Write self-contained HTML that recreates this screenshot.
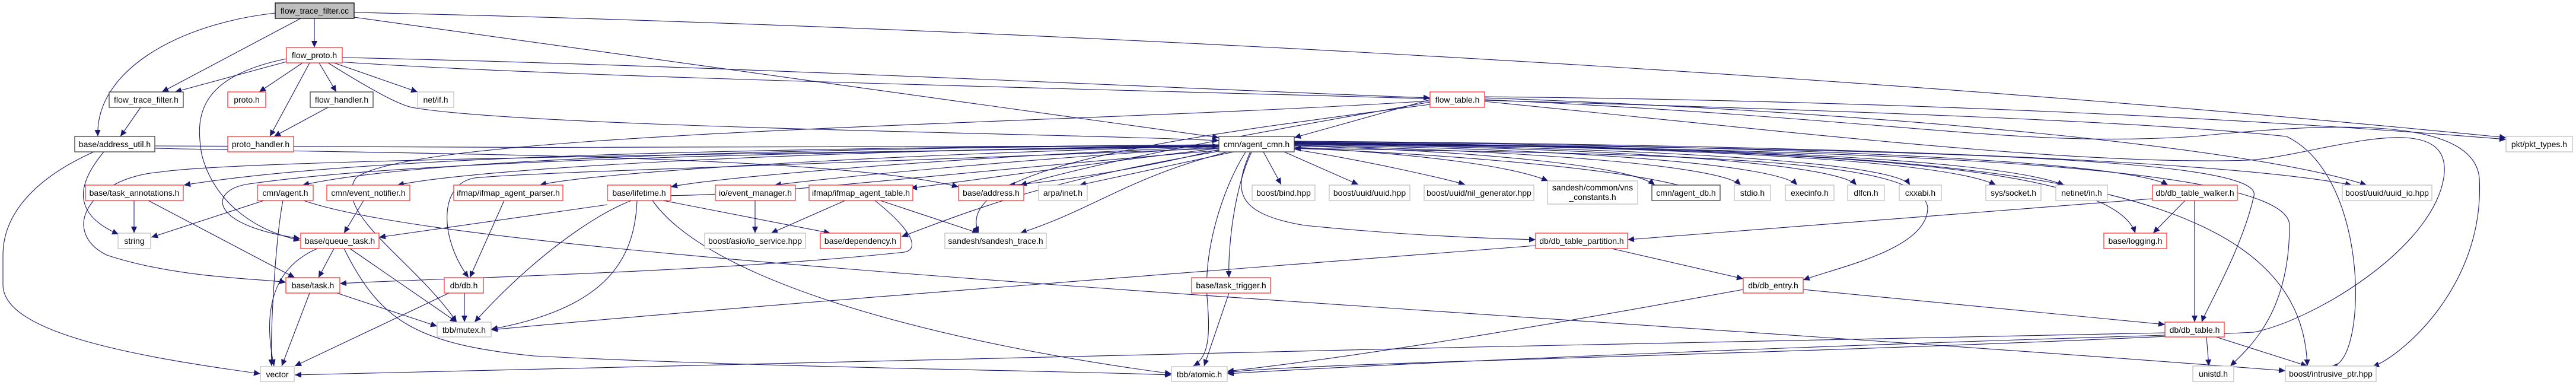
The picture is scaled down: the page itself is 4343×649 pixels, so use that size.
<!DOCTYPE html>
<html><head><meta charset="utf-8"><style>
html,body{margin:0;padding:0;background:#fff;}
svg{display:block;}
text{font-family:"Liberation Sans",sans-serif;font-size:14px;fill:#000;text-anchor:middle;}
.n{fill:#fff;stroke-width:1.3;}
.r{stroke:#ff3333;}
.g{stroke:#c0c0c0;}
.b{stroke:#404040;}
.e{fill:none;stroke:#191970;stroke-width:1.1;marker-end:url(#a);}
</style></head><body>
<svg width="4343" height="649" viewBox="0 0 4343 649" xmlns="http://www.w3.org/2000/svg">
<defs><marker id="a" markerUnits="userSpaceOnUse" markerWidth="12" markerHeight="10" refX="11" refY="5" orient="auto"><path d="M0,0 L11,5 L0,10 z" fill="#191970"/></marker></defs>

<!-- edges -->
<g>
<!-- flow_trace_filter.cc -->
<path class="e" d="M530,31 L530,80"/>
<path class="e" d="M507,31 L273,155"/>
<path class="e" d="M464,22 C300,40 160,120 165,230"/>
<path class="e" d="M597,29 L2055,232"/>
<path class="e" d="M597,21 C1500,40 3000,110 4225,232"/>
<!-- flow_proto.h -->
<path class="e" d="M483,104 L295,155"/>
<path class="e" d="M510,106 L437,155"/>
<path class="e" d="M522,106 L455,230"/>
<path class="e" d="M538,106 L567,155"/>
<path class="e" d="M563,106 L704,155"/>
<path class="e" d="M553,106 C640,160 680,180 700,182 C900,215 1800,225 2055,237"/>
<path class="e" d="M577,97 C1200,110 2000,150 2411,165"/>
<path class="e" d="M483,99 C330,130 330,200 340,260 C360,340 430,390 506,405"/>
<path class="e" d="M555,103 C1200,150 3300,170 3855,230 C4000,300 3990,620 3930,617"/>
<!-- flow_trace_filter.h / flow_handler.h -->
<path class="e" d="M237,181 L203,230"/>
<path class="e" d="M553,181 L462,230"/>
<!-- base/address_util.h -->
<path class="e" d="M158,256 C60,300 5,360 5,430 L5,480 C5,560 220,600 439,630"/>
<path class="e" d="M175,256 C130,310 120,360 200,395"/>
<path class="e" d="M261,250 C700,260 1400,260 1616,315"/>
<path class="e" d="M261,246 C900,250 1900,250 2055,246"/>
<!-- cmn/agent_cmn.h outgoing -->
<path class="e" d="M2055,244 C1200,250 600,265 310,312"/>
<path class="e" d="M2055,244 C1200,252 700,270 510,312"/>
<path class="e" d="M2055,245 C1300,255 800,285 670,312"/>
<path class="e" d="M2055,246 C1500,260 1000,290 910,312"/>
<path class="e" d="M2055,247 C1600,265 1200,300 1131,315"/>
<path class="e" d="M2055,248 C1700,270 1400,300 1306,312"/>
<path class="e" d="M2055,250 C1800,280 1600,310 1535,317"/>
<path class="e" d="M2055,252 C1900,290 1750,310 1700,312"/>
<path class="e" d="M2080,256 L1820,312"/>
<path class="e" d="M2130,256 L2160,311"/>
<path class="e" d="M2165,256 L2290,311"/>
<path class="e" d="M2182,252 C2300,270 2430,300 2470,311"/>
<path class="e" d="M2182,248 C2400,260 2550,280 2610,305"/>
<path class="e" d="M2182,246 C2500,255 2750,280 2790,312"/>
<path class="e" d="M2182,245 C2600,255 2900,280 2935,312"/>
<path class="e" d="M2182,244 C2700,252 3000,280 3030,312"/>
<path class="e" d="M2182,243 C2800,250 3100,280 3130,312"/>
<path class="e" d="M2182,242 C2900,250 3200,280 3220,312"/>
<path class="e" d="M2182,241 C3000,248 3300,280 3365,312"/>
<path class="e" d="M2182,240 C3100,248 3400,280 3480,312"/>
<path class="e" d="M2182,239 C3200,246 3600,280 3655,312"/>
<path class="e" d="M2182,238 C3300,246 3800,280 3965,312"/>
<path class="e" d="M2182,240 C3000,250 3560,270 3600,393"/>
<path class="e" d="M2182,241 C3100,250 3820,260 3800,330 C3780,420 3720,520 3712,543"/>
<path class="e" d="M2182,242 C3200,250 3860,280 3860,380 C3860,520 3800,580 3760,617"/>
<path class="e" d="M2182,243 C3300,250 3880,280 3890,617"/>
<path class="e" d="M2182,250 C2900,260 3240,270 3250,350 C3250,420 3100,450 3040,472"/>
<path class="e" d="M2100,256 C2060,320 2030,420 2035,500 C2040,560 2040,600 2012,617"/>
<path class="e" d="M2110,256 C2080,320 2070,420 2072,468"/>
<path class="e" d="M2108,256 C2080,320 2080,360 2200,380 C2400,400 2550,403 2589,404"/>
<path class="e" d="M2070,256 C1900,300 1850,350 1720,393"/>
<path class="e" d="M2060,254 C1800,300 1700,330 1520,399"/>
<path class="e" d="M2055,250 C1300,280 900,290 800,300 C740,310 740,400 790,468"/>
<path class="e" d="M2060,253 C1500,300 1300,330 1100,330 C1050,330 920,410 800,543"/>
<path class="e" d="M2055,247 C1200,260 400,270 270,290 C150,300 100,390 180,430 C300,470 450,470 482,476"/>
<path class="e" d="M2055,246 C1300,258 700,270 420,310 C350,320 350,380 506,402"/>
<!-- flow_table.h -->
<path class="e" d="M2411,168 L2182,232"/>
<path class="e" d="M2411,172 C2200,210 1900,260 1720,312"/>
<path class="e" d="M2411,176 C2000,230 1600,280 1650,393"/>
<path class="e" d="M2411,170 C1800,210 700,220 600,300 C560,360 700,440 770,543"/>
<path class="e" d="M2503,163 C3200,170 3800,200 4225,235"/>
<path class="e" d="M2503,165 C3200,190 3800,250 3990,312"/>
<path class="e" d="M2503,168 C3200,200 3400,250 3700,230 C3900,210 4170,190 4180,300 C4190,480 4050,600 4000,618"/>
<path class="e" d="M2503,171 C3000,220 3500,280 3790,270 C3900,265 4140,170 4120,300 C4100,420 3900,540 3800,560 C3000,600 2200,610 2069,628"/>
<!-- row4 outgoing -->
<path class="e" d="M226,338 L226,393"/>
<path class="e" d="M250,338 L497,468"/>
<path class="e" d="M445,338 L255,400"/>
<path class="e" d="M477,338 C465,400 455,560 458,617"/>
<path class="e" d="M512,338 C800,440 2500,520 3853,625"/>
<path class="e" d="M613,338 L580,393"/>
<path class="e" d="M850,338 L792,468"/>
<path class="e" d="M1024,345 L639,400"/>
<path class="e" d="M1118,338 L1400,393"/>
<path class="e" d="M1074,338 C1070,440 1020,520 828,555"/>
<path class="e" d="M1100,338 C1200,480 1600,580 1975,630"/>
<path class="e" d="M1273,338 L1273,393"/>
<path class="e" d="M1425,338 L1300,393"/>
<path class="e" d="M1484,338 L1650,393"/>
<path class="e" d="M1475,338 C1540,390 1550,420 1525,425 C1200,460 700,470 573,478"/>
<!-- row5 outgoing -->
<path class="e" d="M563,419 L537,468"/>
<path class="e" d="M590,419 L770,543"/>
<path class="e" d="M535,419 C440,460 450,560 462,617"/>
<path class="e" d="M580,419 C640,540 700,580 900,600 C1300,620 1800,625 1975,632"/>
<!-- row6 outgoing -->
<path class="e" d="M568,494 L737,550"/>
<path class="e" d="M522,494 L475,617"/>
<path class="e" d="M783,494 L783,543"/>
<path class="e" d="M757,494 L497,617"/>
<path class="e" d="M2072,494 L2030,617"/>
<path class="e" d="M2717,419 L2939,470"/>
<path class="e" d="M2589,414 C2000,460 1200,520 828,556"/>
<path class="e" d="M2939,488 C2600,550 2300,600 2069,626"/>
<path class="e" d="M3040,488 L3650,547"/>
<path class="e" d="M3684,338 L3630,393"/>
<path class="e" d="M3700,338 L3700,543"/>
<path class="e" d="M3629,335 L2744,404"/>
<path class="e" d="M3720,568 L3724,617"/>
<path class="e" d="M3736,568 L3890,617"/>
<path class="e" d="M3650,561 C2600,580 1000,620 497,632"/>
<path class="e" d="M3650,565 C3000,585 2400,610 2069,630"/>
<path class="e" d="M2830,312 C2700,280 2400,258 2182,250"/>
</g>

<!-- nodes -->
<g>
<rect x="464" y="5" width="133" height="26" fill="#bfbfbf" stroke="#000" stroke-width="1.3"/><text x="530.5" y="23">flow_trace_filter.cc</text>
<rect class="n r" x="483" y="80" width="94" height="26"/><text x="530" y="98">flow_proto.h</text>
<rect class="n b" x="184" y="155" width="125" height="26"/><text x="246.5" y="173">flow_trace_filter.h</text>
<rect class="n r" x="384" y="155" width="64" height="26"/><text x="416" y="173">proto.h</text>
<rect class="n b" x="523" y="155" width="106" height="26"/><text x="576" y="173">flow_handler.h</text>
<rect class="n g" x="704" y="155" width="61" height="26"/><text x="734.5" y="173">net/if.h</text>
<rect class="n r" x="2411" y="155" width="92" height="26"/><text x="2457" y="173">flow_table.h</text>
<rect class="n b" x="126" y="230" width="135" height="26"/><text x="193.5" y="248">base/address_util.h</text>
<rect class="n r" x="384" y="230" width="111" height="26"/><text x="439.5" y="248">proto_handler.h</text>
<rect class="n b" x="2055" y="230" width="127" height="26"/><text x="2118.5" y="248">cmn/agent_cmn.h</text>
<rect class="n g" x="4225" y="230" width="112" height="26"/><text x="4281" y="248">pkt/pkt_types.h</text>

<rect class="n r" x="144" y="312" width="165" height="26"/><text x="226.5" y="330">base/task_annotations.h</text>
<rect class="n r" x="434" y="312" width="94" height="26"/><text x="481" y="330">cmn/agent.h</text>
<rect class="n r" x="551" y="312" width="140" height="26"/><text x="621" y="330">cmn/event_notifier.h</text>
<rect class="n r" x="765" y="312" width="184" height="26"/><text x="857" y="330">ifmap/ifmap_agent_parser.h</text>
<rect class="n r" x="1024" y="312" width="107" height="26"/><text x="1077.5" y="330">base/lifetime.h</text>
<rect class="n r" x="1206" y="312" width="135" height="26"/><text x="1273.5" y="330">io/event_manager.h</text>
<rect class="n r" x="1364" y="312" width="175" height="26"/><text x="1451.5" y="330">ifmap/ifmap_agent_table.h</text>
<rect class="n r" x="1616" y="312" width="110" height="26"/><text x="1671" y="330">base/address.h</text>
<rect class="n g" x="1751" y="312" width="82" height="26"/><text x="1792" y="330">arpa/inet.h</text>
<rect class="n g" x="2111" y="312" width="106" height="26"/><text x="2164" y="330">boost/bind.hpp</text>
<rect class="n g" x="2241" y="312" width="136" height="26"/><text x="2309" y="330">boost/uuid/uuid.hpp</text>
<rect class="n g" x="2401" y="312" width="185" height="26"/><text x="2493.5" y="330">boost/uuid/nil_generator.hpp</text>
<rect class="n g" x="2609" y="305" width="152" height="39"/><text x="2685" y="321">sandesh/common/vns</text><text x="2685" y="337">_constants.h</text>
<rect class="n b" x="2785" y="312" width="115" height="26"/><text x="2842.5" y="330">cmn/agent_db.h</text>
<rect class="n g" x="2924" y="312" width="61" height="26"/><text x="2954.5" y="330">stdio.h</text>
<rect class="n g" x="3010" y="312" width="82" height="26"/><text x="3051" y="330">execinfo.h</text>
<rect class="n g" x="3115" y="312" width="62" height="26"/><text x="3146" y="330">dlfcn.h</text>
<rect class="n g" x="3202" y="312" width="71" height="26"/><text x="3237.5" y="330">cxxabi.h</text>
<rect class="n g" x="3348" y="312" width="93" height="26"/><text x="3394.5" y="330">sys/socket.h</text>
<rect class="n g" x="3466" y="312" width="87" height="26"/><text x="3509.5" y="330">netinet/in.h</text>
<rect class="n r" x="3629" y="312" width="143" height="26"/><text x="3700.5" y="330">db/db_table_walker.h</text>
<rect class="n g" x="3949" y="312" width="151" height="26"/><text x="4024.5" y="330">boost/uuid/uuid_io.hpp</text>

<rect class="n g" x="199" y="393" width="55" height="26"/><text x="226.5" y="411">string</text>
<rect class="n r" x="507" y="393" width="132" height="26"/><text x="573" y="411">base/queue_task.h</text>
<rect class="n g" x="1188" y="393" width="170" height="26"/><text x="1273" y="411">boost/asio/io_service.hpp</text>
<rect class="n r" x="1383" y="393" width="135" height="26"/><text x="1450.5" y="411">base/dependency.h</text>
<rect class="n g" x="1593" y="393" width="171" height="26"/><text x="1678.5" y="411">sandesh/sandesh_trace.h</text>
<rect class="n r" x="2589" y="393" width="155" height="26"/><text x="2666.5" y="411">db/db_table_partition.h</text>
<rect class="n r" x="3547" y="393" width="106" height="26"/><text x="3600" y="411">base/logging.h</text>

<rect class="n r" x="482" y="468" width="91" height="26"/><text x="527.5" y="486">base/task.h</text>
<rect class="n r" x="749" y="468" width="66" height="26"/><text x="782" y="486">db/db.h</text>
<rect class="n r" x="2009" y="468" width="133" height="26"/><text x="2075.5" y="486">base/task_trigger.h</text>
<rect class="n r" x="2939" y="468" width="101" height="26"/><text x="2989.5" y="486">db/db_entry.h</text>

<rect class="n g" x="737" y="543" width="91" height="25"/><text x="782.5" y="561">tbb/mutex.h</text>
<rect class="n r" x="3650" y="543" width="100" height="25"/><text x="3700" y="561">db/db_table.h</text>

<rect class="n g" x="439" y="618" width="57" height="25"/><text x="467.5" y="636">vector</text>
<rect class="n g" x="1975" y="618" width="94" height="25"/><text x="2022" y="636">tbb/atomic.h</text>
<rect class="n g" x="3697" y="617" width="69" height="26"/><text x="3731.5" y="635">unistd.h</text>
<rect class="n g" x="3853" y="617" width="153" height="26"/><text x="3929.5" y="635">boost/intrusive_ptr.hpp</text>
</g>
</svg>
</body></html>
